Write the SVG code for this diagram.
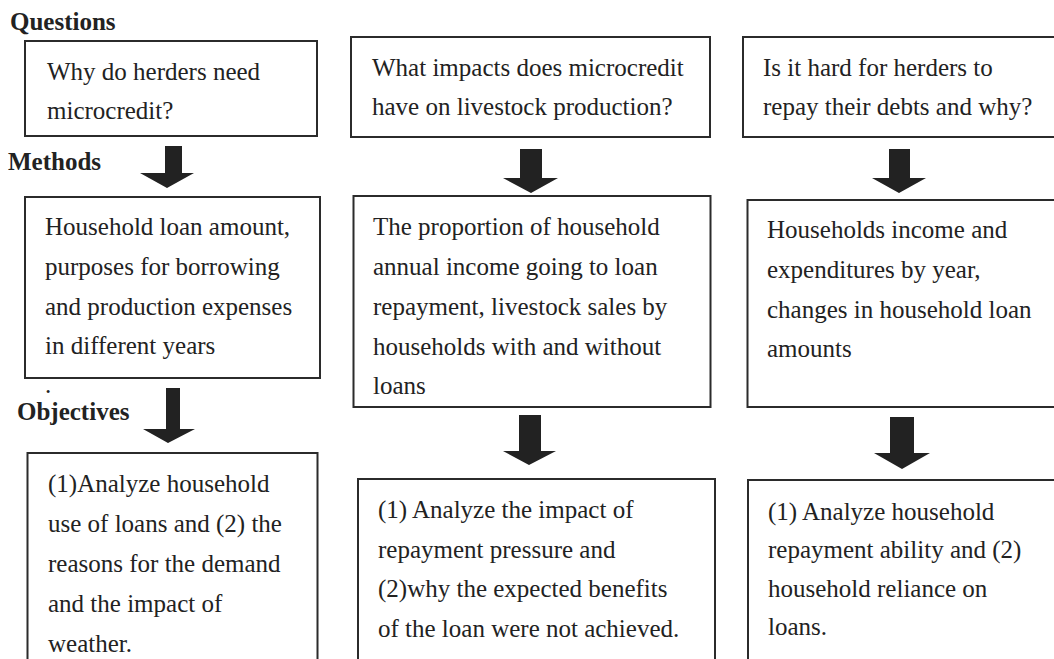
<svg xmlns="http://www.w3.org/2000/svg" width="1054" height="659" viewBox="0 0 1054 659">
<style>
.box{fill:#fff;stroke:#2b2b2b;stroke-width:2}
.t{font-family:"Liberation Serif","Times New Roman",serif;font-size:25px;fill:#222}
.h{font-family:"Liberation Serif","Times New Roman",serif;font-size:25px;font-weight:bold;fill:#222}
.arr{fill:#222;stroke:none}
</style>
<rect width="1054" height="659" fill="#fff"/>
<g id="labels">
<text class="h" x="10" y="30">Questions</text>
<text class="h" x="8" y="170">Methods</text>
<text class="h" x="17" y="420">Objectives</text>
<text class="t" x="45" y="393">.</text>
</g>
<g id="q1">
<rect class="box" x="25" y="41" width="292" height="95"/>
<text class="t" x="47" y="80">Why do herders need</text>
<text class="t" x="47" y="119">microcredit?</text>
</g>
<g id="q2">
<rect class="box" x="351" y="37" width="359" height="100"/>
<text class="t" x="372" y="76">What impacts does microcredit</text>
<text class="t" x="372" y="115">have on livestock production?</text>
</g>
<g id="q3">
<rect class="box" x="743" y="37" width="330" height="100"/>
<text class="t" x="763" y="76">Is it hard for herders to</text>
<text class="t" x="763" y="115">repay their debts and why?</text>
</g>
<g id="m1">
<rect class="box" x="25" y="197" width="295" height="181"/>
<text class="t" x="45" y="235">Household loan amount,</text>
<text class="t" x="45" y="275">purposes for borrowing</text>
<text class="t" x="45" y="315">and production expenses</text>
<text class="t" x="45" y="354">in different years</text>
</g>
<g id="m2">
<rect class="box" x="353.5" y="196" width="357" height="211"/>
<text class="t" x="373" y="235">The proportion of household</text>
<text class="t" x="373" y="275">annual income going to loan</text>
<text class="t" x="373" y="315">repayment, livestock sales by</text>
<text class="t" x="373" y="355">households with and without</text>
<text class="t" x="373" y="394">loans</text>
</g>
<g id="m3">
<rect class="box" x="747.5" y="200" width="330" height="207"/>
<text class="t" x="767" y="238">Households income and</text>
<text class="t" x="767" y="278">expenditures by year,</text>
<text class="t" x="767" y="318">changes in household loan</text>
<text class="t" x="767" y="357">amounts</text>
</g>
<g id="o1">
<rect class="box" x="27.5" y="453" width="290" height="230"/>
<text class="t" x="48" y="492">(1)Analyze household</text>
<text class="t" x="48" y="532">use of loans and (2) the</text>
<text class="t" x="48" y="572">reasons for the demand</text>
<text class="t" x="48" y="612">and the impact of</text>
<text class="t" x="48" y="652">weather.</text>
</g>
<g id="o2">
<rect class="box" x="358" y="479" width="357" height="210"/>
<text class="t" x="378" y="518">(1) Analyze the impact of</text>
<text class="t" x="378" y="558">repayment pressure and</text>
<text class="t" x="378" y="597">(2)why the expected benefits</text>
<text class="t" x="378" y="637">of the loan were not achieved.</text>
</g>
<g id="o3">
<rect class="box" x="748" y="480" width="330" height="210"/>
<text class="t" x="768" y="520">(1) Analyze household</text>
<text class="t" x="768" y="558">repayment ability and (2)</text>
<text class="t" x="768" y="597">household reliance on</text>
<text class="t" x="768" y="635">loans.</text>
</g>
<g id="connectors">
<polygon class="arr" points="165,146 182,146 182,173 194,173 167,188 140,173 165,173"/>
<polygon class="arr" points="520,149 542,149 542,178 558,178 531,193 503,178 520,178"/>
<polygon class="arr" points="889,149 910,149 910,178 926,178 899,193 872,178 889,178"/>
<polygon class="arr" points="166,388 180,388 180,429 195,429 168,443 143,429 166,429"/>
<polygon class="arr" points="519,415 541,415 541,451 556,451 529,465 503,451 519,451"/>
<polygon class="arr" points="890,417 914,417 914,453 930,453 902,469 874,453 890,453"/>
</g>
</svg>
